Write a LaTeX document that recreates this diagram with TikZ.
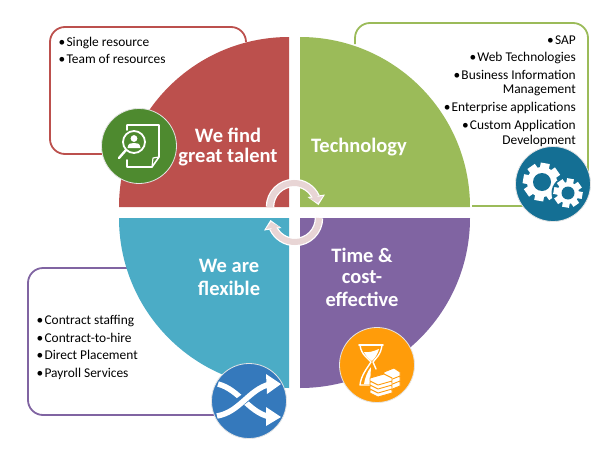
\documentclass[tikz,border=0pt]{standalone}
\usepackage{fontspec}
\setmainfont{Carlito}
\definecolor{qred}{HTML}{BC504D}
\definecolor{qgreen}{HTML}{9BBB59}
\definecolor{qpurple}{HTML}{8064A2}
\definecolor{qteal}{HTML}{4BACC6}
\definecolor{cgreen}{HTML}{4E8A2F}
\definecolor{cteal}{HTML}{146F94}
\definecolor{cblue}{HTML}{3579BC}
\definecolor{corange}{HTML}{FF9C0A}
\definecolor{cpink}{HTML}{E8D5D5}
\tikzset{
  panel/.style={line width=1.8pt,rounded corners=15pt},
  badge/.style={circle,minimum size=75pt,inner sep=0pt,draw=white!80!gray,line width=0.8pt},
  head/.style={text=white,font=\fontsize{20.5}{22}\bfseries\selectfont,inner sep=0pt,anchor=center},
  item/.style={font=\fontsize{13.4}{15}\selectfont,inner sep=0pt,text=black},
  iconline/.style={draw=white,line width=1.6pt,line cap=round,line join=round,fill=none},
  bills/.style={draw=corange,line width=0.9pt},
}
\newcommand{\blt}{\textbullet\kern1.2pt}
\newcommand{\mygear}[6]{% x y outer inner teeth hole
  \foreach \k in {1,...,#5}{
    \fill[white,rotate around={360/#5*\k+10:(#1,#2)}] (#1-#3*0.24,#2) rectangle (#1+#3*0.24,#2-#3);
  }
  \fill[white] (#1,#2) circle[radius=#4 pt];
  \fill[cteal] (#1,#2) circle[radius=#6 pt];
}
\begin{document}
\begin{tikzpicture}[x=1pt,y=1pt,yscale=-1]
\useasboundingbox (0,0) rectangle (600,450);
\fill[white] (0,0) rectangle (600,450);
% panels
\draw[panel,draw=qred] (246,42) -- (246,27) -- (50,27) -- (50,154) -- (115,154);
\draw[panel,draw=qgreen] (355,44) -- (355,23) -- (588,23) -- (588,206) -- (472,206);
\draw[panel,draw=qpurple] (130,268) -- (28,268) -- (28,415) -- (220,415);
% quadrants
\fill[qred] (289,207) -- (119,207) arc[start angle=180,end angle=270,radius=170pt] -- cycle;
\fill[qgreen] (300,207) -- (300,37) arc[start angle=270,end angle=360,radius=170pt] -- cycle;
\fill[qpurple] (300,218) -- (470,218) arc[start angle=0,end angle=90,radius=170pt] -- cycle;
\fill[qteal] (289,218) -- (289,388) arc[start angle=90,end angle=180,radius=170pt] -- cycle;
% centre arrows
\foreach \a in {0,180}{
  \begin{scope}[rotate around={\a:(294.5,212.5)}]
    \draw[white,line width=8.5pt] (294,207)+(180:24pt) arc[start angle=180,end angle=336,radius=24pt];
    \fill[white] (307.5,197) -- (325,194.5) -- (318.5,205) -- cycle;
    \draw[cpink,line width=6pt] (294,207)+(180:24pt) arc[start angle=180,end angle=336,radius=24pt];
    \fill[cpink] (309,198) -- (323,196) -- (318,203) -- cycle;
  \end{scope}
}
% headings
\node[head] (h1a) at (228,135) {We find};
\node[head] (h1b) at (228,157) {great talent};
\node[head] (h2) at (359,147) {Technology};
\node[head] (h3a) at (362,255) {Time \&};
\node[head] (h3b) at (362,277) {cost-};
\node[head] (h3c) at (362,299) {effective};
\node[head] (h4a) at (229,266) {We are};
\node[head] (h4b) at (229,288) {flexible};
% lists
\node[item,anchor=base west] (r1) at (58.5,46.5) {\blt Single resource};
\node[item,anchor=base west] (r2) at (58.5,63.5) {\blt Team of resources};
\node[item,anchor=base east] (g1) at (576,44.5) {\blt SAP};
\node[item,anchor=base east] (g2) at (576,61.5) {\blt Web Technologies};
\node[item,anchor=base east] (g3) at (576,79) {\blt Business Information};
\node[item,anchor=base east] (g3b) at (576,93.5) {Management};
\node[item,anchor=base east] (g4) at (576,111.5) {\blt Enterprise applications};
\node[item,anchor=base east] (g5) at (576,129) {\blt Custom Application};
\node[item,anchor=base east] (g5b) at (576,144) {Development};
\node[item,anchor=base west] (p1) at (36.5,324.5) {\blt Contract staffing};
\node[item,anchor=base west] (p2) at (36.5,342) {\blt Contract-to-hire};
\node[item,anchor=base west] (p3) at (36.5,359.5) {\blt Direct Placement};
\node[item,anchor=base west] (p4) at (36.5,377) {\blt Payroll Services};
% badges
\node[badge,fill=cgreen] (bgreen) at (139,146) {};
\node[badge,fill=cteal] (bteal) at (553,184) {};
\node[badge,fill=cblue] (bblue) at (249,401) {};
\node[badge,fill=corange] (borange) at (377,365) {};
% document / magnifier icon
\draw[iconline] (127,130) -- (127,125) -- (159,125) -- (159,157) -- (152,167) -- (127,167) -- (127,160);
\draw[iconline,line width=1.2pt] (159,157) -- (153,158) -- (152,167);
\draw[iconline,line width=1.8pt] (134,142) circle[radius=11pt];
\draw[iconline,line width=2.4pt] (126,150) -- (119,158);
\fill[white] (134,138.5) circle[radius=3.4pt];
\fill[white] (127.5,148) .. controls (128,143) and (131,143) .. (134,143) .. controls (137,143) and (140,143) .. (140.5,148) -- cycle;
% gears
\mygear{542}{182}{19}{15}{8}{9}
\fill[cteal] (568,193) circle[radius=16.5pt];
\mygear{568}{193}{14.5}{11}{8}{6.5}
% shuffle icon
\draw[white,line width=5.5pt] (218,384) .. controls (240,390) and (248,412) .. (270,417);
\fill[white] (266,407) -- (281,417) -- (266,426) -- cycle;
\draw[cblue,line width=9.5pt] (226,409) .. controls (240,406) and (250,390) .. (268,385);
\draw[white,line width=5.5pt] (217,416) .. controls (240,412) and (248,390) .. (270,384);
\fill[white] (266,374) -- (281,384) -- (267,394) -- cycle;
% hourglass and money icon
\draw[iconline,line width=1.6pt] (359,345) -- (383,345);
\draw[iconline,line width=1.4pt] (360,345) .. controls (361,355) and (369,359) .. (371,362) .. controls (368,367) and (361,375) .. (360,385) -- (370,385);
\draw[iconline,line width=1.4pt] (382,345) .. controls (381,355) and (375,359) .. (373,362) -- (376,369);
\fill[white] (364,352) .. controls (369,353) and (374,351) .. (379,349) .. controls (377,356) and (374,359) .. (372,361) .. controls (368,358) and (365,355) .. (364,352) -- cycle;
\fill[white] (364,384) .. controls (365,378) and (367,372) .. (371,367) -- (370,384) -- cycle;
% bills: back stack, then front stack
\foreach \d in {10,5,0}{
  \fill[white,bills] (384,\d+372) -- (394,\d+368) -- (400,\d+372) -- (400,\d+376) -- (390,\d+380) -- (384,\d+376) -- cycle;
}
\foreach \d in {12,8,4,0}{
  \fill[white,bills] (370,\d+378) -- (384,\d+374) -- (392,\d+378) -- (392,\d+381) -- (378,\d+385) -- (370,\d+381) -- cycle;
}
\end{tikzpicture}
\end{document}
